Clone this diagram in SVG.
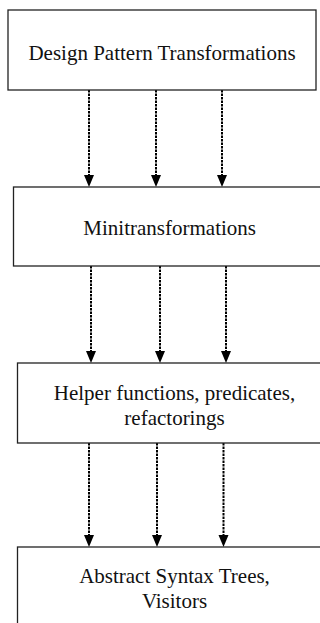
<svg xmlns="http://www.w3.org/2000/svg" width="320" height="623" viewBox="0 0 320 623">
<style>
.box{fill:#fff;stroke:#222;stroke-width:1.3}
.lbl{font-family:"Liberation Serif","Times New Roman",serif;font-size:21px;fill:#111;text-anchor:middle}
.con{stroke:#000;stroke-width:2;stroke-dasharray:2.5 1;fill:none;marker-end:url(#ah)}
</style>
<defs>
<marker id="ah" markerUnits="userSpaceOnUse" markerWidth="12" markerHeight="14" refX="6" refY="0" orient="0" viewBox="0 0 12 14" overflow="visible">
<path d="M1,0 L11,0 L6,12 Z" fill="#000" stroke="none"/>
</marker>
</defs>
<rect width="320" height="623" fill="#fff"/>
<g id="connectors">
<line class="con" x1="89" y1="90" x2="89" y2="175"/>
<line class="con" x1="156" y1="90" x2="156" y2="175"/>
<line class="con" x1="222" y1="90" x2="222" y2="175"/>
<line class="con" x1="91" y1="266" x2="91" y2="351"/>
<line class="con" x1="160" y1="266" x2="160" y2="351"/>
<line class="con" x1="226" y1="266" x2="226" y2="351"/>
<line class="con" x1="89" y1="443" x2="89" y2="535"/>
<line class="con" x1="157" y1="443" x2="157" y2="535"/>
<line class="con" x1="223.5" y1="443" x2="223.5" y2="535"/>
</g>
<g id="node-design">
<rect class="box" x="8" y="10" width="308" height="80"/>
<text class="lbl" x="162" y="60">Design Pattern Transformations</text>
</g>
<g id="node-mini">
<rect class="box" x="13.5" y="187" width="320" height="79"/>
<text class="lbl" x="169.7" y="235">Minitransformations</text>
</g>
<g id="node-helper">
<rect class="box" x="17.5" y="363" width="320" height="80"/>
<text class="lbl" x="174.5" y="400">Helper functions, predicates,</text>
<text class="lbl" x="174.5" y="425">refactorings</text>
</g>
<g id="node-ast">
<rect class="box" x="17.5" y="547" width="320" height="100"/>
<text class="lbl" x="174.5" y="583">Abstract Syntax Trees,</text>
<text class="lbl" x="174.5" y="608">Visitors</text>
</g>
</svg>
